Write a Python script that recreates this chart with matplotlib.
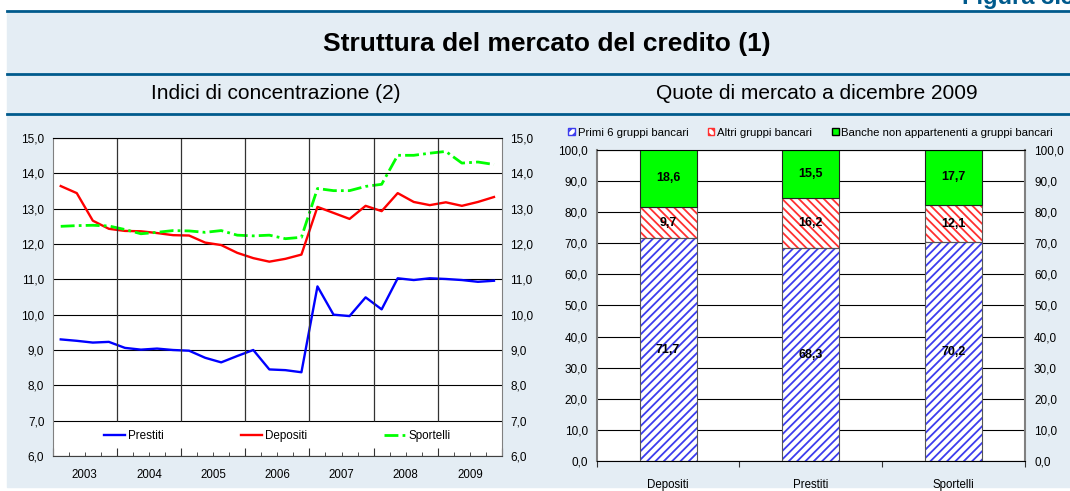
import numpy as np
import matplotlib
matplotlib.use('Agg')
import matplotlib.pyplot as plt
from matplotlib.lines import Line2D
from matplotlib.patches import Rectangle, Patch
from matplotlib.ticker import FuncFormatter

plt.rcParams['font.family'] = ['Liberation Sans', 'DejaVu Sans']
plt.rcParams['hatch.linewidth'] = 1.3

# --- dati: indici di concentrazione (trimestrali, 2003-2009) ---
anni = ['2003', '2004', '2005', '2006', '2007', '2008', '2009']
prestiti = [9.30, 9.26, 9.21, 9.23, 9.06, 9.01, 9.04, 9.00, 8.98, 8.78, 8.65, 8.83, 9.00, 8.45,
            8.43, 8.37, 10.80, 10.00, 9.96, 10.49, 10.15, 11.03, 10.98, 11.03, 11.01, 10.98,
            10.93, 10.96]
depositi = [13.64, 13.44, 12.66, 12.43, 12.37, 12.36, 12.31, 12.25, 12.24, 12.04, 11.97, 11.75,
            11.60, 11.50, 11.58, 11.70, 13.05, 12.88, 12.71, 13.08, 12.93, 13.44, 13.19, 13.10,
            13.18, 13.08, 13.19, 13.33]
sportelli = [12.50, 12.52, 12.53, 12.51, 12.41, 12.29, 12.33, 12.38, 12.37, 12.33, 12.38, 12.25,
             12.23, 12.25, 12.15, 12.19, 13.57, 13.51, 13.51, 13.63, 13.69, 14.51, 14.51, 14.57,
             14.62, 14.29, 14.32, 14.25]

# --- dati: quote di mercato a dicembre 2009 ---
categorie = ['Depositi', 'Prestiti', 'Sportelli']
primi6 = [71.7, 68.3, 70.2]
altri = [9.7, 16.2, 12.1]
non_gruppi = [18.6, 15.5, 17.7]
serie_quote = ['Primi 6 gruppi bancari', 'Altri gruppi bancari',
               'Banche non appartenenti a gruppi bancari']

W, H = 1070, 491
fig = plt.figure(figsize=(W / 100, H / 100), dpi=100)


def fx(px):
    return px / W


def fy(py):
    return 1 - py / H


def virgola(v, pos=None):
    return f'{v:.1f}'.replace('.', ',')


blu_scuro = '#005A8C'
fig.patches.append(Rectangle((fx(7), fy(487)), fx(1063), fy(12.7) - fy(487),
                             transform=fig.transFigure, color='#E4EDF4', zorder=-10))
for yy in (11.3, 74, 114):
    fig.add_artist(Line2D([fx(7), 1], [fy(yy), fy(yy)], color=blu_scuro, lw=2))

fig.text(fx(961.7), fy(4), 'Figura 3.5', ha='left', va='baseline', fontsize=17,
         fontweight='bold', color=blu_scuro)
fig.text(fx(547), fy(44), 'Struttura del mercato del credito (1)', ha='center', va='center',
         fontsize=19, fontweight='bold')
fig.text(fx(276), fy(94), 'Indici di concentrazione (2)', ha='center', va='center', fontsize=15)
fig.text(fx(816.7), fy(94), 'Quote di mercato a dicembre 2009', ha='center', va='center',
         fontsize=15)

# ---------------- grafico a linee ----------------
ax1 = fig.add_axes([fx(52.7), fy(456), fx(502 - 52.7), fy(138) - fy(456)])
xq = np.arange(len(prestiti)) + 0.5
ax1.plot(xq, prestiti, color='#0000FF', lw=1.7, label='Prestiti')
ax1.plot(xq, depositi, color='#FF0000', lw=1.7, label='Depositi')
ax1.plot(xq, sportelli, color='#00FF00', lw=2, dashes=[5, 1.5, 1, 1.5], label='Sportelli')
nq = len(anni) * 4
ax1.set_xlim(0, nq)
ax1.set_ylim(6, 15)
ax1.set_yticks(np.arange(6, 15.1, 1))
ax1.yaxis.set_major_formatter(FuncFormatter(virgola))
ax1.grid(axis='y', color='black', lw=0.8)
ax1.vlines(np.arange(4, nq, 4), 7, 15, color='#333333', lw=0.9)

ax1.set_xticks(np.arange(0, nq + 1, 4))
ax1.set_xticklabels([])
minori = [i for i in range(1, nq) if i % 4]
etichette = [anni[i // 4] if i % 4 == 2 else '' for i in minori]
ax1.set_xticks(minori, minor=True)
ax1.set_xticklabels(etichette, minor=True)
ax1.tick_params(axis='x', which='major', direction='in', length=6, color='#333333')
ax1.tick_params(axis='x', which='minor', direction='in', length=3, color='#333333',
                pad=9, labelsize=8.3)
ax1.tick_params(axis='y', length=0, labelsize=8.5, pad=6, labelright=True)
for s in ('left', 'right'):
    ax1.spines[s].set_color('#808080')
ax1.spines['top'].set_color('black')
ax1.spines['top'].set_linewidth(0.8)
ax1.spines['bottom'].set_color('#404040')
ax1.legend(loc='center', bbox_to_anchor=(0.5, 0.063), ncol=3, frameon=False, fontsize=8.4,
           handlelength=1.8, handletextpad=0.25, columnspacing=6.6)

# ---------------- grafico a barre ----------------
ax2 = fig.add_axes([fx(596.7), fy(461.3), fx(1025 - 596.7), fy(149.5) - fy(461.3)])
x = np.arange(len(categorie))
base2 = np.array(primi6) + np.array(altri)
ax2.bar(x, primi6, 0.4, color='white', edgecolor='#3C3CEE', hatch='////', lw=0)
ax2.bar(x, altri, 0.4, bottom=primi6, color='white', edgecolor='#FF3030', hatch='\\\\\\\\', lw=0)
c1 = ax2.bar(x, primi6, 0.4, fill=False, edgecolor='#555555', lw=0.8)
c2 = ax2.bar(x, altri, 0.4, bottom=primi6, fill=False, edgecolor='#555555', lw=0.8)
c3 = ax2.bar(x, non_gruppi, 0.4, bottom=base2, color='#00FF00', edgecolor='#222222', lw=0.8)
for c, vals in ((c1, primi6), (c2, altri), (c3, non_gruppi)):
    ax2.bar_label(c, labels=[virgola(v) for v in vals], label_type='center', fontsize=9,
                  fontweight='bold')

ax2.set_xlim(-0.5, len(categorie) - 0.5)
ax2.set_ylim(0, 100)
ax2.set_yticks(np.arange(0, 101, 10))
ax2.yaxis.set_major_formatter(FuncFormatter(virgola))
ax2.set_axisbelow(True)
ax2.grid(axis='y', color='black', lw=0.8)
ax2.set_xticks(np.arange(-0.5, len(categorie), 1))
ax2.set_xticklabels([])
ax2.set_xticks(x, minor=True)
ax2.set_xticklabels(categorie, minor=True)
ax2.tick_params(axis='x', which='major', direction='out', length=4, color='#333333')
ax2.tick_params(axis='x', which='minor', length=0, pad=12.5, labelsize=8.3)
ax2.tick_params(axis='y', length=0, labelsize=8.5, pad=6.5, labelright=True)
for s in ('left', 'right'):
    ax2.spines[s].set_color('#808080')
    ax2.spines[s].set_linewidth(1.5)
ax2.spines['top'].set_linewidth(0.8)
ax2.spines['bottom'].set_linewidth(0.8)

maniglie = [Patch(facecolor='white', edgecolor='#3C3CEE', hatch='////'),
            Patch(facecolor='white', edgecolor='#FF3030', hatch='\\\\\\\\'),
            Patch(facecolor='#00FF00', edgecolor='black')]
fig.legend(maniglie, serie_quote, loc='center', bbox_to_anchor=(fx(810.5), fy(132.7)), ncol=3,
           frameon=False, fontsize=8.2, handlelength=0.6, handleheight=0.6, handletextpad=0.25,
           columnspacing=1.7)

fig.savefig('out.png', dpi=100)
